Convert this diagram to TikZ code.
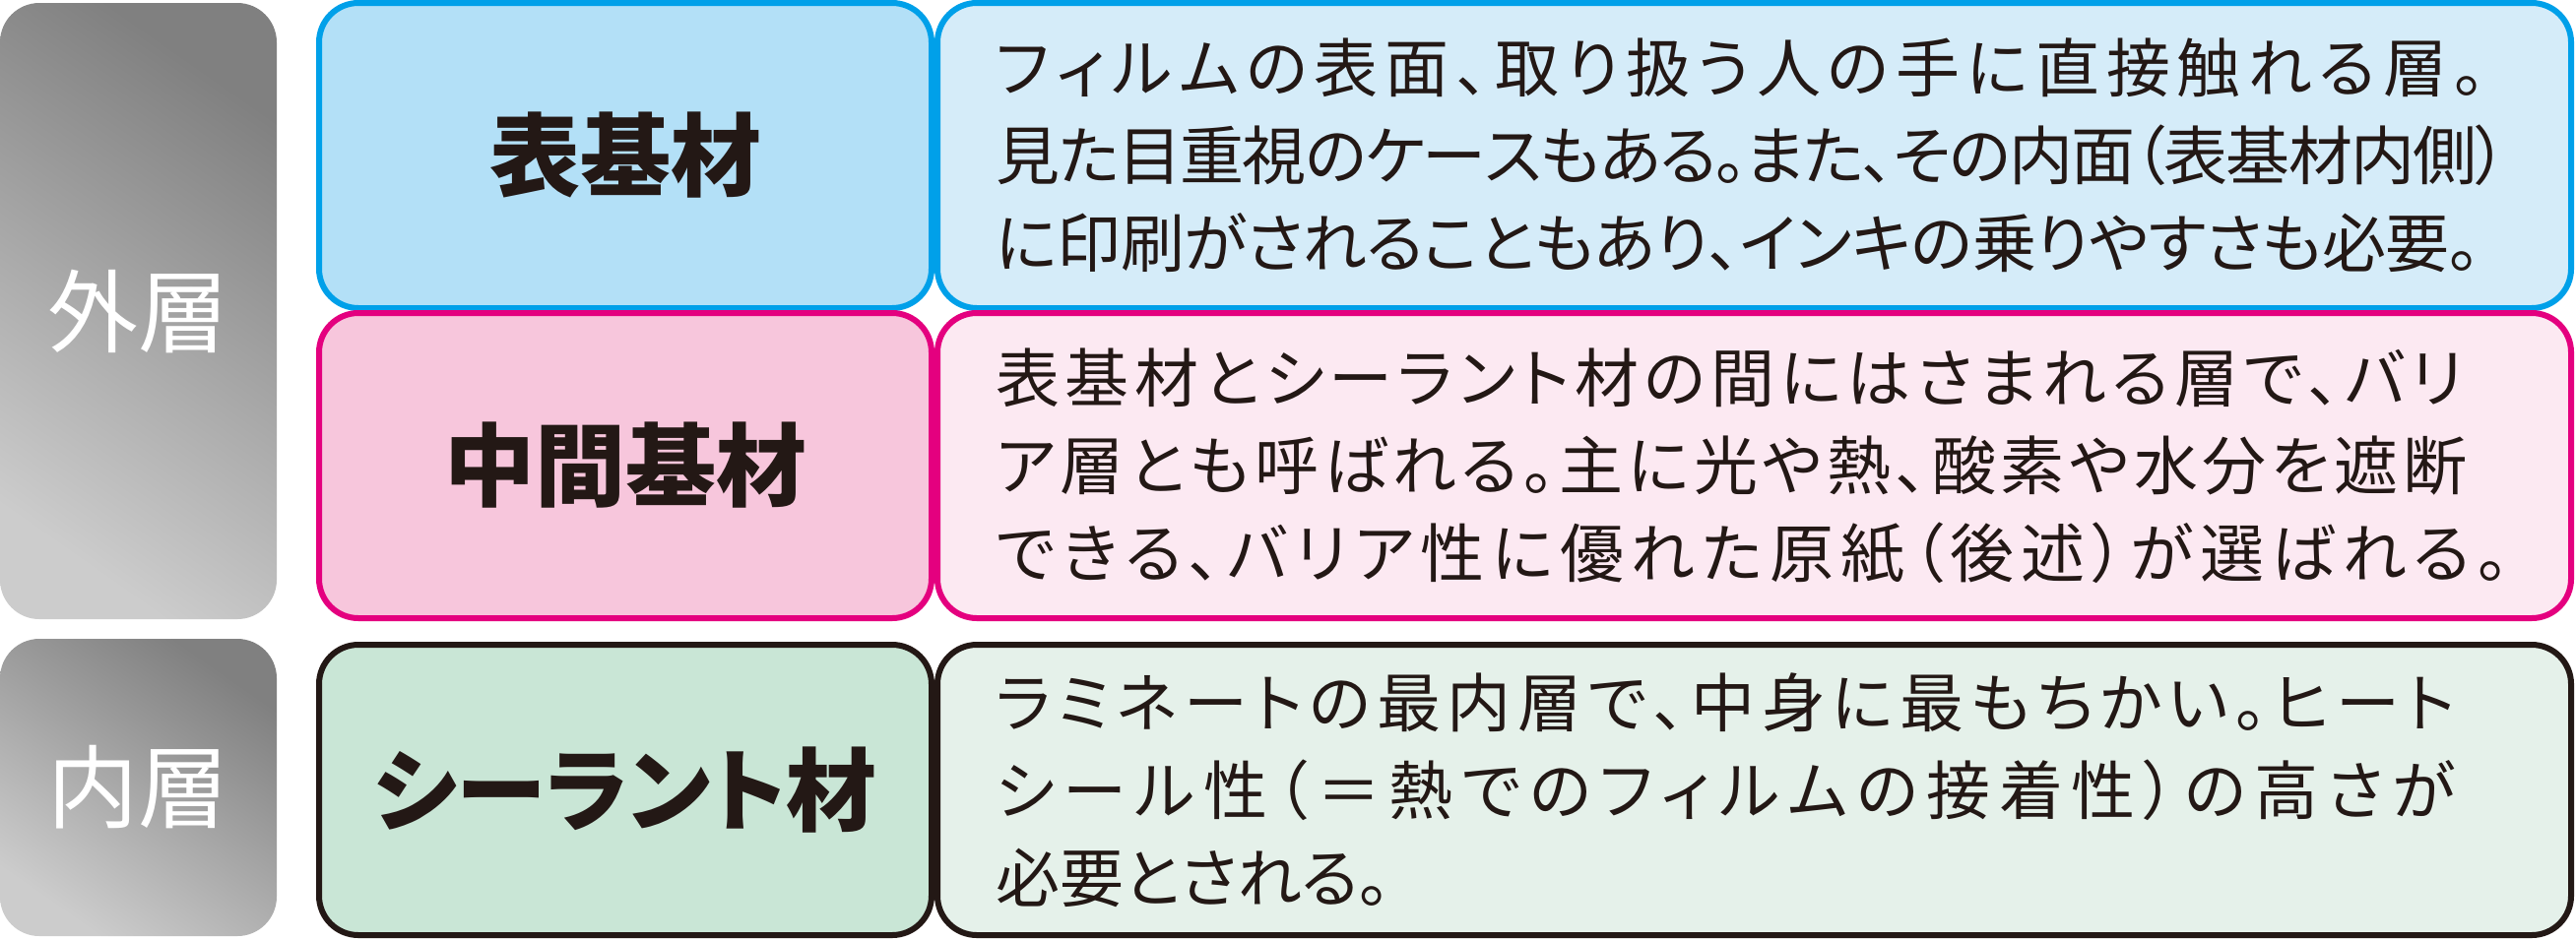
\documentclass[tikz,border=0pt]{standalone}
\usepackage{fontspec}
\setmainfont{Noto Sans CJK JP}[RawFeature=+palt]

\definecolor{cyanline}{HTML}{00A0E9}
\definecolor{cyanfill}{HTML}{B3E0F7}
\definecolor{cyanpale}{HTML}{D5ECF9}
\definecolor{pinkline}{HTML}{E4007F}
\definecolor{pinkfill}{HTML}{F7C6DC}
\definecolor{pinkpale}{HTML}{FCE9F2}
\definecolor{inkline}{HTML}{231815}
\definecolor{greenfill}{HTML}{C9E6D6}
\definecolor{greenpale}{HTML}{E5F1EA}

% spread the characters of one line over a given width
\def\spreadrest#1{\ifx#1\relax\else\hskip0pt plus 1fil minus 2pt\relax#1\expandafter\spreadrest\fi}
\def\spreadfirst#1{#1\spreadrest}
\newcommand\fitline[2]{\makebox[#1][s]{\spreadfirst#2\relax}}

\tikzset{
	layer/.style={rectangle, rounded corners=20pt, minimum width=140.5pt, inner sep=0pt,
		top color=black!50, bottom color=black!20, shading angle=-35,
		text=white, font=\fontsize{46}{50}\selectfont},
	namebox/.style={rectangle, rounded corners=20pt, draw=#1, line width=3pt,
		minimum width=311pt, inner sep=0pt, text=inkline,
		font=\fontsize{46}{50}\selectfont\bfseries},
	descbox/.style={rectangle, rounded corners=20pt, draw=#1, line width=3pt,
		minimum width=829.5pt, inner sep=0pt, text=inkline, text width=770pt,
		align=left, font=\fontsize{32.5}{44.5}\selectfont}
}

\begin{document}
\begin{tikzpicture}[x=0.5pt, y=-0.5pt]
\useasboundingbox (0,0) rectangle (2616,955);

% layers
\node[layer, minimum height=313pt] (outer) at (140.5,316) {外層};
\node[layer, minimum height=151pt] (inner) at (140.5,800) {内層};

% names
\node[namebox=cyanline, fill=cyanfill, minimum height=155pt]   (face)  at (635,158)   {表基材};
\node[namebox=pinkline, fill=pinkfill, minimum height=155pt]   (mid)   at (635,473)   {中間基材};
\node[namebox=inkline, fill=greenfill, minimum height=147.5pt] (seal)  at (635,802.5) {シーラント材};

% descriptions
\node[descbox=cyanline, fill=cyanpale, minimum height=155pt] (faceT) at (1781.5,158) {%
	\fitline{756.5pt}{フィルムの表面、取り扱う人の手に直接触れる層。}\\
	\fitline{767.5pt}{見た目重視のケースもある。また、その内面（表基材内側）}\\
	\fitline{754pt}{に印刷がされることもあり、インキの乗りやすさも必要。}};
\node[descbox=pinkline, fill=pinkpale, minimum height=155pt] (midT) at (1781.5,473) {%
	\fitline{745pt}{表基材とシーラント材の間にはさまれる層で、バリ}\\
	\fitline{747pt}{ア層とも呼ばれる。主に光や熱、酸素や水分を遮断}\\
	\fitline{768.5pt}{できる、バリア性に優れた原紙（後述）が選ばれる。}};
\node[descbox=inkline, fill=greenpale, minimum height=147.5pt] (sealT) at (1781.5,802.5) {%
	\fitline{741pt}{ラミネートの最内層で、中身に最もちかい。ヒート}\\
	\fitline{741pt}{シール性（＝熱でのフィルムの接着性）の高さが}\\
	必要とされる。};
\end{tikzpicture}
\end{document}
